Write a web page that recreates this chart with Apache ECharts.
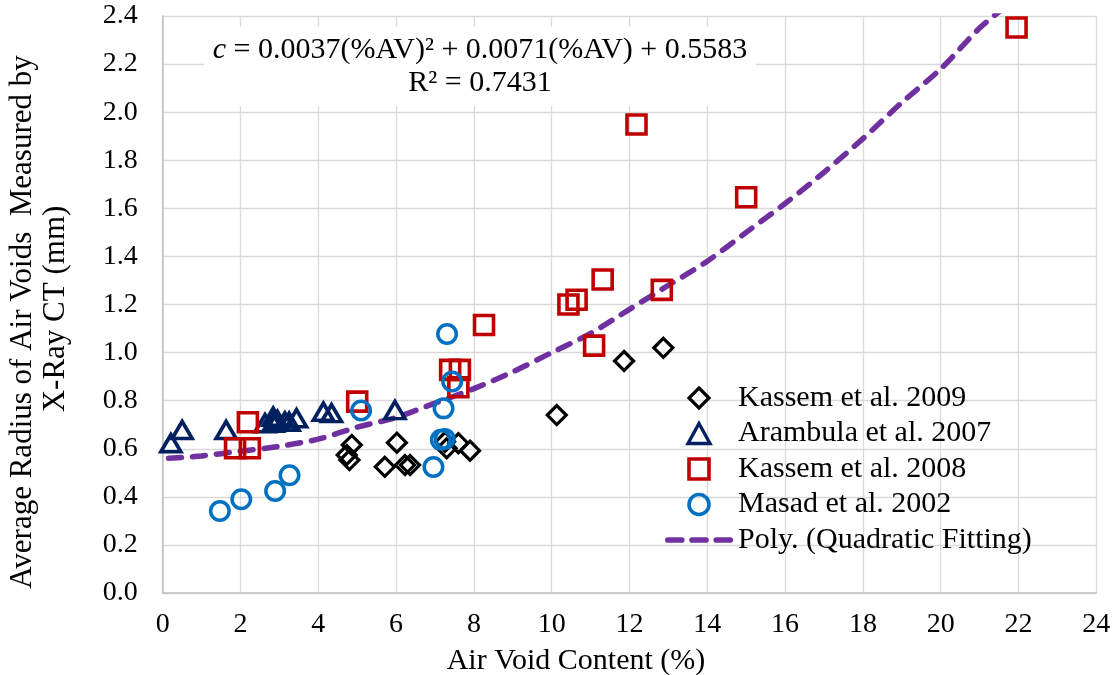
<!DOCTYPE html>
<html>
<head>
<meta charset="utf-8">
<script src="https://cdn.jsdelivr.net/npm/echarts@6/dist/echarts.min.js"></script>
<style>
html,body{margin:0;padding:0;background:#fff;}
#chart{width:1115px;height:675px;}
</style>
</head>
<body>
<div id="chart"></div>
<script>
// ---- Data ----
const kassem2009X = [4.73, 4.86, 4.80, 6.02, 5.71, 6.23, 6.36, 7.26, 7.30, 7.60, 7.90, 10.13, 11.86, 12.87];
const kassem2009Y = [0.574, 0.616, 0.553, 0.625, 0.525, 0.532, 0.532, 0.629, 0.602, 0.623, 0.592, 0.740, 0.965, 1.020];

const arambula2007X = [0.21, 0.50, 1.63, 2.63, 2.84, 2.84, 2.95, 3.14, 3.25, 3.44, 4.13, 4.34, 5.97];
const arambula2007Y = [0.623, 0.678, 0.678, 0.706, 0.733, 0.708, 0.720, 0.713, 0.712, 0.727, 0.754, 0.748, 0.761];

const kassem2008X = [1.86, 2.24, 2.19, 5.00, 7.39, 7.64, 7.60, 8.26, 10.43, 10.64, 11.09, 11.31, 12.18, 12.83, 15.00, 21.95];
const kassem2008Y = [0.602, 0.602, 0.710, 0.796, 0.928, 0.928, 0.856, 1.115, 1.200, 1.220, 1.029, 1.304, 1.949, 1.261, 1.646, 2.352];

const masad2002X = [1.47, 2.02, 2.89, 3.26, 5.10, 6.96, 7.15, 7.25, 7.22, 7.44, 7.31];
const masad2002Y = [0.341, 0.390, 0.424, 0.490, 0.759, 0.524, 0.637, 0.641, 0.768, 0.880, 1.077];

// Quadratic trendline, points
const fitX = [0.15, 1, 2, 3, 4, 5, 6, 7, 8, 9, 10, 11, 12, 13, 14, 15, 16, 17, 18, 19, 20, 21, 21.6];
const fitY = [0.56, 0.57, 0.59, 0.61, 0.64, 0.69, 0.73, 0.79, 0.85, 0.92, 1.00, 1.08, 1.18, 1.28, 1.38, 1.50, 1.62, 1.75, 1.89, 2.04, 2.18, 2.35, 2.43];

const xTicks = [0, 2, 4, 6, 8, 10, 12, 14, 16, 18, 20, 22, 24];
const yTicks = ['0.0','0.2','0.4','0.6','0.8','1.0','1.2','1.4','1.6','1.8','2.0','2.2','2.4'];

const seriesNames = ['Kassem et al. 2009', 'Arambula et al. 2007', 'Kassem et al. 2008', 'Masad et al. 2002', 'Poly. (Quadratic Fitting)'];
const eqLine1 = ' = 0.0037(%AV)² + 0.0071(%AV) + 0.5583';
const eqLine2 = 'R² = 0.7431';
const xTitle = 'Air Void Content (%)';
const yTitle1 = 'Average Radius of Air Voids  Measured by';
const yTitle2 = 'X-Ray CT (mm)';

// ---- Build ----
const FONT = '"Liberation Serif", "Times New Roman", serif';
const pairs = (xs, ys) => xs.map((x, i) => [x, ys[i]]);
const HOLLOW = 'rgba(0,0,0,0)';
// legend icon for the dashed trendline: three rounded dashes
const dash = (x0) => 'M' + (x0 + 2.75) + ',0 H' + (x0 + 16.25) + ' A2.75,2.75 0 0 1 ' + (x0 + 16.25) + ',5.5 H' + (x0 + 2.75) + ' A2.75,2.75 0 0 1 ' + (x0 + 2.75) + ',0 Z';
const dashIcon = 'path://' + dash(0) + ' ' + dash(23.5) + ' ' + dash(47);

const chart = echarts.init(document.getElementById('chart'), null, {renderer: 'canvas'});

function scatter(name, xs, ys, symbol, size, color, bw) {
  return {
    name, type: 'scatter', data: pairs(xs, ys), symbol, symbolSize: size,
    itemStyle: {color: HOLLOW, borderColor: color, borderWidth: bw, opacity: 1},
    emphasis: {disabled: true}, z: 3
  };
}

const option = {
  backgroundColor: '#fff',
  animation: false,
  textStyle: {fontFamily: FONT},
  grid: {left: 162.7, right: 18.7, top: 16, bottom: 82, containLabel: false},
  xAxis: {
    type: 'value', min: 0, max: 24, interval: 2,
    axisLine: {show: true, lineStyle: {color: '#bfbfbf', width: 1.5}},
    axisTick: {show: false},
    splitLine: {show: true, lineStyle: {color: '#d9d9d9', width: 1.3}},
    axisLabel: {color: '#000', fontSize: 28, fontFamily: FONT, margin: 18,
      formatter: v => String(xTicks[Math.round(v / 2)])}
  },
  yAxis: {
    type: 'value', min: 0, max: 2.4, interval: 0.2,
    axisLine: {show: true, lineStyle: {color: '#bfbfbf', width: 1.5}},
    axisTick: {show: false},
    splitLine: {show: true, lineStyle: {color: '#d9d9d9', width: 1.3}},
    axisLabel: {color: '#000', fontSize: 28, fontFamily: FONT, margin: 25,
      formatter: v => yTicks[Math.round(v / 0.2)]}
  },
  legend: {
    orient: 'vertical', left: 660, top: 378, padding: 5,
    itemWidth: 68, itemHeight: 20, itemGap: 5.5,
    symbolKeepAspect: true,
    textStyle: {fontSize: 30, fontFamily: FONT, color: '#000', lineHeight: 30},
    data: [
      {name: seriesNames[0], icon: 'path://M0,-1 L1,0 L0,1 L-1,0 Z',
        itemStyle: {color: HOLLOW, borderColor: '#000', borderWidth: 3.2}},
      {name: seriesNames[1], icon: 'path://M0,-1 L1.1,1 L-1.1,1 Z',
        itemStyle: {color: HOLLOW, borderColor: '#002060', borderWidth: 3.4}},
      {name: seriesNames[2], icon: 'path://M0,0 L1,0 L1,1 L0,1 Z',
        itemStyle: {color: HOLLOW, borderColor: '#c00000', borderWidth: 3.6}},
      {name: seriesNames[3], icon: 'circle',
        itemStyle: {color: HOLLOW, borderColor: '#0070c0', borderWidth: 3.6}},
      {name: seriesNames[4], icon: dashIcon,
        itemStyle: {color: '#7030a0', borderWidth: 0}}
    ],
    selectedMode: false
  },
  series: [
    scatter(seriesNames[0], kassem2009X, kassem2009Y, 'diamond', 19, '#000', 3.2),
    scatter(seriesNames[1], arambula2007X, arambula2007Y, 'triangle', [20, 17], '#002060', 3.6),
    scatter(seriesNames[2], kassem2008X, kassem2008Y, 'rect', 19, '#c00000', 3.6),
    scatter(seriesNames[3], masad2002X, masad2002Y, 'circle', 18.5, '#0070c0', 3.5),
    {
      name: seriesNames[4], type: 'line', data: pairs(fitX, fitY), smooth: 0.3,
      symbol: 'none', showSymbol: false, clip: true, z: 2,
      lineStyle: {color: '#7030a0', width: 5.5, type: [13, 11], cap: 'round'},
      itemStyle: {color: '#7030a0'},
      emphasis: {disabled: true}
    }
  ],
  graphic: [
    {
      type: 'text', x: 480, y: 27, z: 10,
      style: {
        text: '{i|c}' + eqLine1 + '\n' + eqLine2,
        rich: {i: {fontStyle: 'italic', fontSize: 30, fontFamily: FONT}},
        font: '30px ' + FONT, fill: '#000', align: 'center', verticalAlign: 'top',
        lineHeight: 33, backgroundColor: '#fff', padding: [7, 9, 6, 9]
      }
    },
    {
      type: 'text', x: 576, y: 661, z: 10,
      style: {text: xTitle, font: '30px ' + FONT, fill: '#000', align: 'center', verticalAlign: 'middle'}
    },
    {
      type: 'text', x: 23, y: 322, rotation: Math.PI / 2, z: 10,
      style: {text: yTitle1, font: '31px ' + FONT, fill: '#000', align: 'center', verticalAlign: 'middle'}
    },
    {
      type: 'text', x: 56, y: 309, rotation: Math.PI / 2, z: 10,
      style: {text: yTitle2, font: '31px ' + FONT, fill: '#000', align: 'center', verticalAlign: 'middle'}
    }
  ]
};
chart.setOption(option);
</script>
</body>
</html>
